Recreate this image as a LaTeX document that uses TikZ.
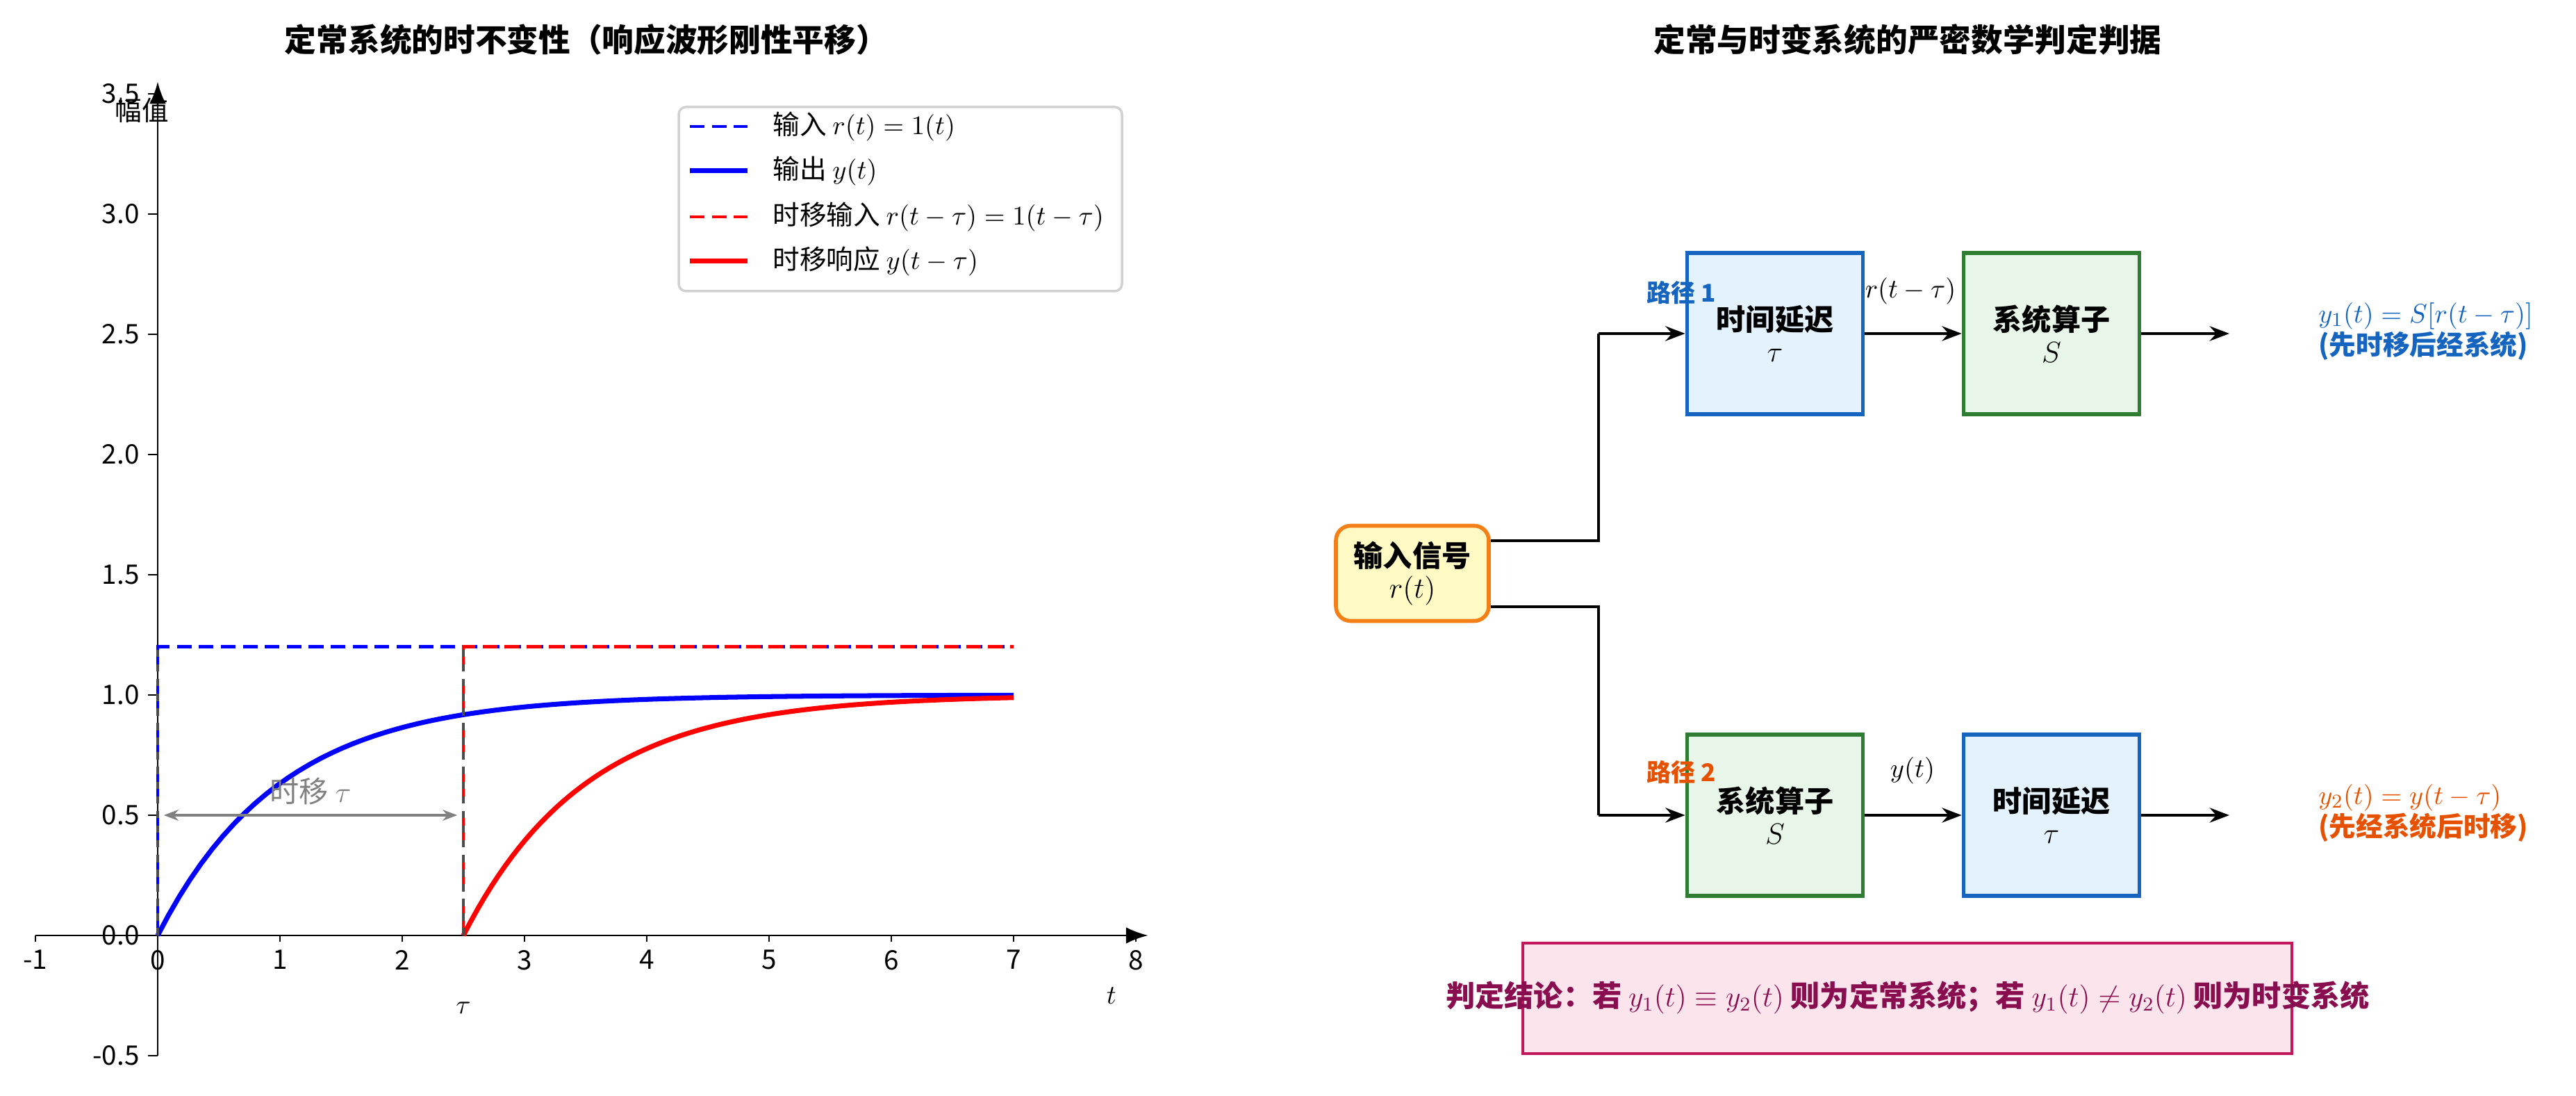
\documentclass[tikz,border=0pt]{standalone}
\usepackage{fontspec}
\setmainfont{Noto Sans CJK SC}
\usetikzlibrary{positioning,arrows.meta}
\definecolor{dlyB}{HTML}{1565C0}
\definecolor{dlyF}{HTML}{E3F2FD}
\definecolor{sysB}{HTML}{2E7D32}
\definecolor{sysF}{HTML}{E8F5E9}
\definecolor{inB}{HTML}{F57F17}
\definecolor{inF}{HTML}{FFF9C4}
\definecolor{pathB}{HTML}{E65100}
\definecolor{conB}{HTML}{C2185B}
\definecolor{conF}{HTML}{FCE4EC}
\definecolor{conT}{HTML}{880E4F}
\tikzset{
  tick/.style={font=\fontsize{11}{12}\selectfont},
  blk/.style={draw, line width=1.6pt, minimum width=2.53cm, minimum height=2.32cm, align=center, font=\fontsize{12}{13}\selectfont\bfseries},
  dly/.style={blk, draw=dlyB, fill=dlyF},
  sys/.style={blk, draw=sysB, fill=sysF},
  flow/.style={-{Stealth[length=8pt]}, line width=1.4pt},
  wire/.style={line width=1.4pt},
  dsh/.style={dash pattern=on 6pt off 3pt, line width=1.3pt}
}
\begin{document}
\begin{tikzpicture}
\useasboundingbox (0,0) rectangle (37.08,15.77);
% titles
\node[font=\fontsize{13}{14}\selectfont\bfseries] (ttlL) at (8.44,15.2) {定常系统的时不变性（响应波形刚性平移）};
\node[font=\fontsize{13}{14}\selectfont\bfseries] (ttlR) at (27.46,15.2) {定常与时变系统的严密数学判定判据};
% left plot
\begin{scope}[shift={(2.27,2.31)}, xscale=1.76, yscale=3.46]
  \draw[line width=0.8pt, -{Latex[length=9pt]}] (-1,0) -- (8.1,0);
  \draw[line width=0.8pt, -{Latex[length=9pt]}] (0,-0.5) -- (0,3.55);
  \foreach \x in {-1,0,...,8}
    \draw (\x,0) -- (\x,-0.025) node[below, tick] {\x};
  \foreach \y/\l in {-0.5/-0.5,0/0.0,0.5/0.5,1/1.0,1.5/1.5,2/2.0,2.5/2.5,3/3.0,3.5/3.5}
    \draw (0,\y) -- (-0.08,\y) node[left, tick] {\l};
  \node[tick] at (-0.13,3.43) {幅值};
  \node[tick] at (7.8,-0.25) {$t$};
  \node[tick] at (2.5,-0.3) {$\tau$};
  % signals
  \draw[blue, dsh] (0,0) -- (0,1.2) -- (7,1.2);
  \draw[blue, line width=2pt, domain=0:7, samples=80] plot (\x,{1-exp(-\x)});
  \draw[red, dsh] (2.5,0) -- (2.5,1.2) -- (7,1.2);
  \draw[red, line width=2pt, domain=2.5:7, samples=80] plot (\x,{1-exp(-(\x-2.5))});
  \draw[black!70, dashed, line width=0.9pt] (0,0) -- (0,1.2);
  \draw[black!70, dashed, line width=0.9pt] (2.5,0) -- (2.5,1.2);
  \draw[gray, line width=1.4pt, {Stealth[length=6pt]}-{Stealth[length=6pt]}] (0.05,0.5) -- (2.45,0.5);
  \node[gray, font=\fontsize{12}{13}\selectfont] at (1.25,0.6) {时移 $\tau$};
\end{scope}
% legend
\draw[black!18, fill=white, rounded corners=3pt, line width=1pt] (9.77,11.58) rectangle (16.15,14.23);
\draw[blue, dsh] (9.93,13.95) -- (10.76,13.95);
\node[tick, anchor=west] at (11.0,13.95) {输入 $r(t)=1(t)$};
\draw[blue, line width=2pt] (9.93,13.31) -- (10.76,13.31);
\node[tick, anchor=west] at (11.0,13.31) {输出 $y(t)$};
\draw[red, dsh] (9.93,12.65) -- (10.76,12.65);
\node[tick, anchor=west] at (11.0,12.65) {时移输入 $r(t-\tau)=1(t-\tau)$};
\draw[red, line width=2pt] (9.93,12.01) -- (10.76,12.01);
\node[tick, anchor=west] at (11.0,12.01) {时移响应 $y(t-\tau)$};
% right diagram
\node[draw=inB, fill=inF, line width=1.6pt, rounded corners=6pt, minimum width=2.2cm, minimum height=1.37cm, align=center, font=\fontsize{12}{13}\selectfont\bfseries] (inp) at (20.33,7.52) {输入信号\\$r(t)$};
\node[dly] (dly1) at (25.55,10.97) {时间延迟\\$\tau$};
\node[sys] (sys1) at (29.53,10.97) {系统算子\\$S$};
\node[sys] (sys2) at (25.55,4.04) {系统算子\\$S$};
\node[dly] (dly2) at (29.53,4.04) {时间延迟\\$\tau$};
\coordinate (out1) at (32.09,10.97);
\coordinate (out2) at (32.09,4.04);
\draw[wire] ([yshift=0.47cm]inp.east) -| (23.01,10.97);
\draw[flow] (23.01,10.97) -- (dly1);
\draw[wire] ([yshift=-0.48cm]inp.east) -| (23.01,4.04);
\draw[flow] (23.01,4.04) -- (sys2);
\draw[flow] (dly1) -- (sys1);
\draw[flow] (sys1) -- (out1);
\draw[flow] (sys2) -- (dly2);
\draw[flow] (dly2) -- (out2);
\node[font=\fontsize{11}{12}\selectfont] (lbl1) at (27.5,11.58) {$r(t-\tau)$};
\node[font=\fontsize{11}{12}\selectfont] (lbl2) at (27.53,4.68) {$y(t)$};
\node[dlyB, font=\fontsize{10}{11}\selectfont\bfseries] (pth1) at (24.2,11.56) {路径 1};
\node[pathB, font=\fontsize{10}{11}\selectfont\bfseries] (pth2) at (24.2,4.66) {路径 2};
\node[dlyB, anchor=west, align=left, font=\fontsize{11}{12}\selectfont] (res1) at (33.25,11.0) {$y_1(t)=S[r(t-\tau)]$\\\textbf{(先时移后经系统)}};
\node[pathB, anchor=west, align=left, font=\fontsize{11}{12}\selectfont] (res2) at (33.25,4.07) {$y_2(t)=y(t-\tau)$\\\textbf{(先经系统后时移)}};
\draw[draw=conB, fill=conF, line width=1.4pt] (21.92,0.61) rectangle (32.99,2.2);
\node[conT, font=\fontsize{12}{13}\selectfont\bfseries] (cncl) at (27.46,1.42) {判定结论：若 $y_1(t)\equiv y_2(t)$ 则为定常系统；若 $y_1(t)\neq y_2(t)$ 则为时变系统};
\end{tikzpicture}
\end{document}
